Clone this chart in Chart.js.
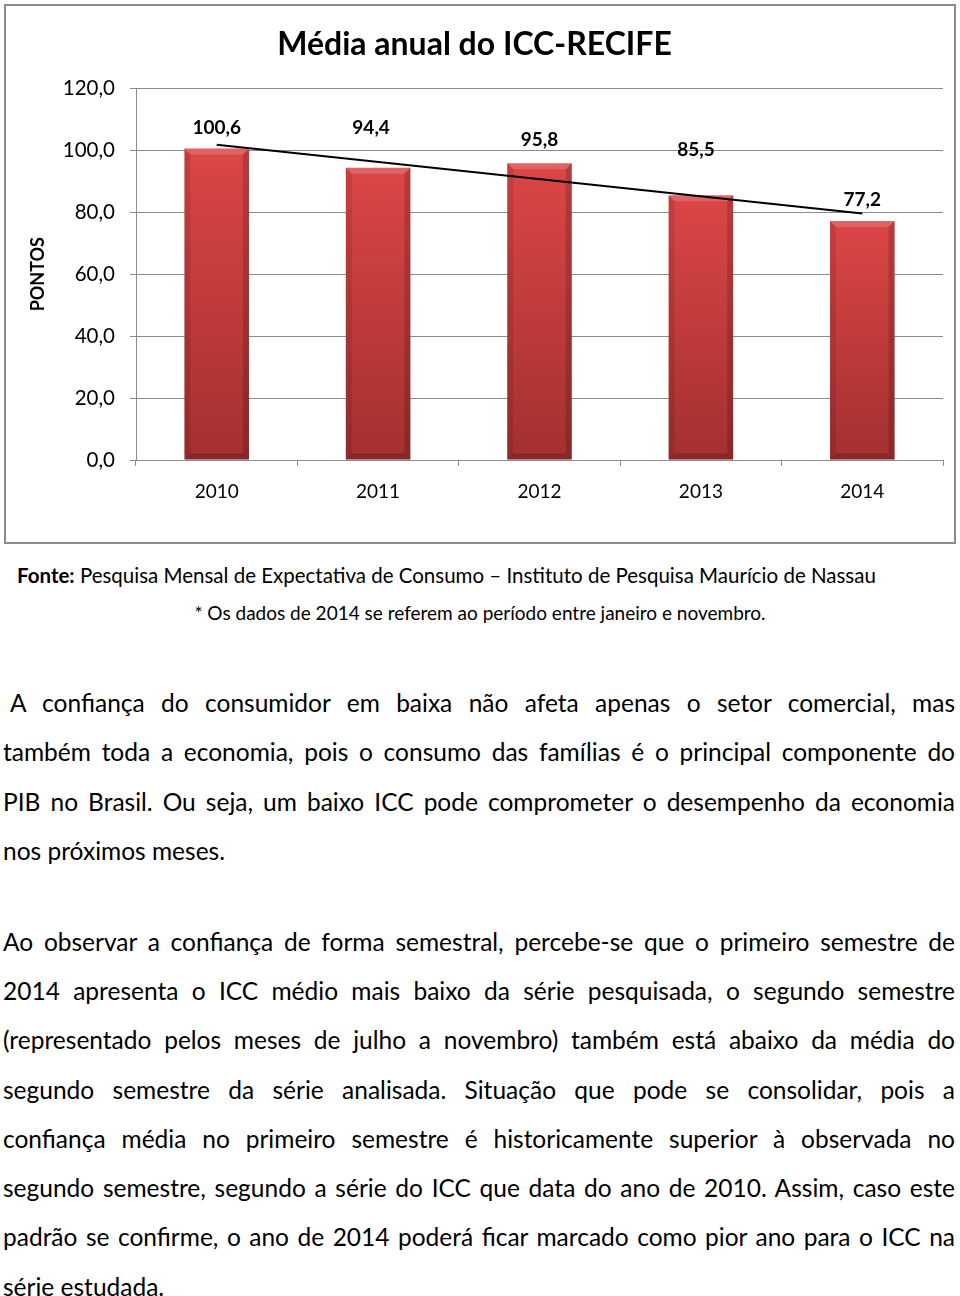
<!DOCTYPE html>
<html><head><meta charset="utf-8">
<script src="https://cdn.jsdelivr.net/npm/chart.js@4/dist/chart.umd.min.js"></script>
<style>
body{margin:0;background:#fff;width:960px;height:1296px;position:relative;overflow:hidden;font-family:Lato,sans-serif;color:#000}
#frame{position:absolute;left:4px;top:4px;width:952px;height:540px;box-sizing:border-box;border:2px solid #8c8c8c}
#frame canvas{display:block}
.src{position:absolute;line-height:22px;white-space:nowrap}
.ln{position:absolute;left:3px;width:952px;height:49px;line-height:49px;font-size:24.5px;text-align:justify;text-align-last:justify}
.ln.last{text-align:left;text-align-last:left}
</style>
</head><body>
<div id="frame"><canvas id="c" width="948" height="536"></canvas></div>

<div class="src" style="left:17px;top:564px;font-size:20.5px"><b>Fonte:</b> Pesquisa Mensal de Expectativa de Consumo – Instituto de Pesquisa Maurício de Nassau</div>
<div class="src" style="left:0;width:960px;text-align:center;top:602px;font-size:19px">* Os dados de 2014 se referem ao período entre janeiro e novembro.</div>

<div class="ln" style="top:678px;left:10px;width:945px">A confiança do consumidor em baixa não afeta apenas o setor comercial, mas</div>
<div class="ln" style="top:727px">também toda a economia, pois o consumo das famílias é o principal componente do</div>
<div class="ln" style="top:777px">PIB no Brasil. Ou seja, um baixo ICC pode comprometer o desempenho da economia</div>
<div class="ln last" style="top:826px">nos próximos meses.</div>

<div class="ln" style="top:917px">Ao observar a confiança de forma semestral, percebe-se que o primeiro semestre de</div>
<div class="ln" style="top:966px">2014 apresenta o ICC médio mais baixo da série pesquisada, o segundo semestre</div>
<div class="ln" style="top:1015px">(representado pelos meses de julho a novembro) também está abaixo da média do</div>
<div class="ln" style="top:1065px">segundo semestre da série analisada. Situação que pode se consolidar, pois a</div>
<div class="ln" style="top:1114px">confiança média no primeiro semestre é historicamente superior à observada no</div>
<div class="ln" style="top:1163px">segundo semestre, segundo a série do ICC que data do ano de 2010. Assim, caso este</div>
<div class="ln" style="top:1212px">padrão se confirme, o ano de 2014 poderá ficar marcado como pior ano para o ICC na</div>
<div class="ln last" style="top:1262px">série estudada.</div>

<script>
const categories = ['2010', '2011', '2012', '2013', '2014'];
const iccValues = [100.6, 94.4, 95.8, 85.5, 77.2];
const valueLabels = ['100,6', '94,4', '95,8', '85,5', '77,2'];
const trendValues = [101.8, null, null, null, 79.6];
const yTickValues = [0, 20, 40, 60, 80, 100, 120];

// label placement (pixels): [dx, distance above bar top]
const labelShift = [[0, 21], [-7, 40], [0, 23], [-5, 45], [0, 21]];

const GRID = '#8c8c8c';
const FONT = 'Lato';

const barLabels = {
  id: 'barLabels',
  afterDatasetsDraw(chart) {
    const meta = chart.getDatasetMeta(1);
    const ctx = chart.ctx;
    ctx.save();
    ctx.font = 'bold 19px ' + FONT;
    ctx.textAlign = 'center';
    ctx.textBaseline = 'middle';
    ctx.fillStyle = '#000';
    meta.data.forEach((bar, i) => {
      ctx.fillText(valueLabels[i], bar.x + labelShift[i][0], bar.y - labelShift[i][1]);
    });
    ctx.restore();
  }
};

const bevel = {
  id: 'bevel',
  afterDatasetDraw(chart, args) {
    if (args.index !== 1) return;
    const ctx = chart.ctx;
    const b = 6;
    ctx.save();
    args.meta.data.forEach(el => {
      const l = el.x - el.width / 2, r = el.x + el.width / 2, t = el.y, bt = el.base;
      const poly = (pts, c) => { ctx.beginPath(); ctx.moveTo(pts[0][0], pts[0][1]); for (let k = 1; k < pts.length; k++) ctx.lineTo(pts[k][0], pts[k][1]); ctx.closePath(); ctx.fillStyle = c; ctx.fill(); };
      poly([[l, t], [r, t], [r - b, t + b], [l + b, t + b]], 'rgba(255,255,255,0.16)');
      poly([[l, t], [l + b, t + b], [l + b, bt - b], [l, bt]], 'rgba(0,0,0,0.10)');
      poly([[r, t], [r - b, t + b], [r - b, bt - b], [r, bt]], 'rgba(0,0,0,0.16)');
      poly([[l, bt], [l + b, bt - b], [r - b, bt - b], [r, bt]], 'rgba(0,0,0,0.18)');
    });
    ctx.restore();
  }
};

new Chart(document.getElementById('c'), {
  data: {
    labels: categories,
    datasets: [
      {
        type: 'line',
        data: trendValues,
        spanGaps: true,
        borderColor: '#000',
        borderWidth: 2,
        pointRadius: 0,
        fill: false,
        order: 0
      },
      {
        type: 'bar',
        data: iccValues,
        order: 1,
        categoryPercentage: 1,
        barPercentage: 0.4,
        borderWidth: 0,
        backgroundColor(ctx) {
          const chart = ctx.chart;
          const y = chart.scales && chart.scales.y;
          if (!y || ctx.dataIndex === undefined) return '#c43a3a';
          const top = y.getPixelForValue(iccValues[ctx.dataIndex]);
          const base = y.getPixelForValue(0);
          if (!isFinite(top) || !isFinite(base)) return '#c43a3a';
          const g = chart.ctx.createLinearGradient(0, top, 0, base);
          g.addColorStop(0, '#dc4646');
          g.addColorStop(1, '#a33030');
          return g;
        }
      }
    ]
  },
  options: {
    responsive: false,
    animation: false,
    layout: { padding: { left: 0, right: 11, top: 0, bottom: 0 } },
    plugins: {
      legend: { display: false },
      tooltip: { enabled: false },
      title: {
        display: true,
        text: 'Média anual do ICC-RECIFE',
        color: '#000',
        font: { family: FONT, size: 32, weight: 'bold' },
        padding: { top: 19, bottom: 25 }
      }
    },
    scales: {
      x: {
        grid: { offset: true, drawOnChartArea: false, tickLength: 6, color: GRID },
        border: { color: GRID, width: 1 },
        ticks: { color: '#000', font: { family: FONT, size: 19 }, padding: 14 },
        afterFit(s) { s.height = 82; }
      },
      y: {
        min: 0,
        max: 120,
        afterBuildTicks(s) { s.ticks = yTickValues.map(v => ({ value: v })); },
        ticks: {
          color: '#000',
          font: { family: FONT, size: 20.5 },
          padding: 15,
          callback: v => v.toFixed(1).replace('.', ',')
        },
        grid: { color: GRID, tickLength: 6 },
        border: { color: GRID, width: 1 },
        title: {
          display: true,
          text: 'PONTOS',
          color: '#000',
          font: { family: FONT, size: 18, weight: 'bold' },
          padding: { top: 21, bottom: 0 }
        },
        afterFit(s) { s.width = 130; }
      }
    }
  },
  plugins: [barLabels, bevel]
});
</script>
</body></html>
